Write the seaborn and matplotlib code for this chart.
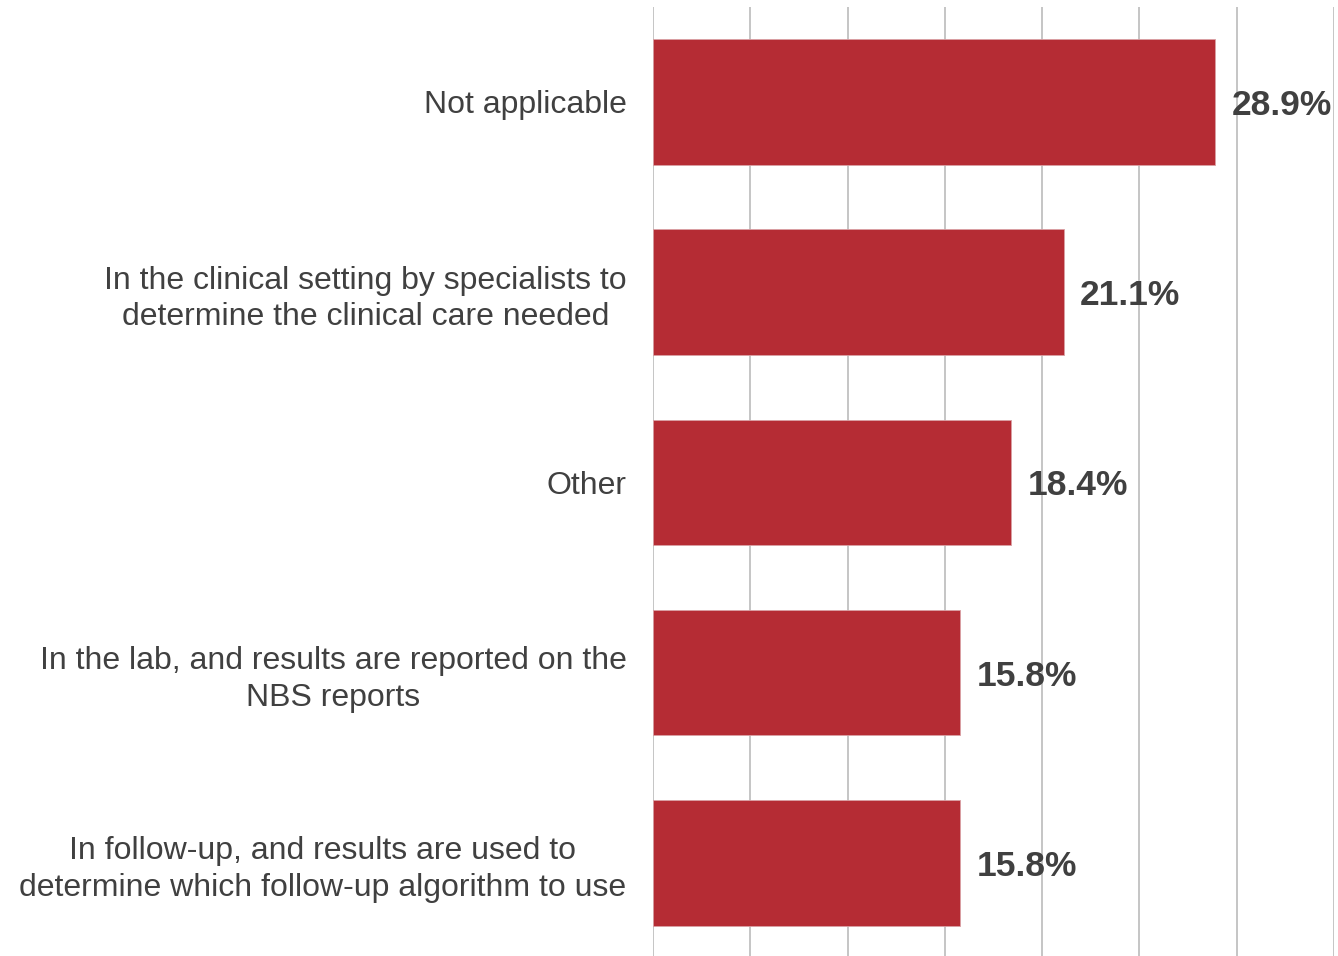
import matplotlib
matplotlib.use("Agg")
import matplotlib.pyplot as plt
import seaborn as sns
import pandas as pd

categories = [
    "Not applicable",
    "In the clinical setting by specialists to\ndetermine the clinical care needed",
    "Other",
    "In the lab, and results are reported on the\nNBS reports",
    "In follow-up, and results are used to\ndetermine which follow-up algorithm to use",
]
values = [28.9, 21.1, 18.4, 15.8, 15.8]

df = pd.DataFrame({"category": categories, "value": values})

sns.set_theme(style="white")
plt.rcParams["font.family"] = ["Liberation Sans", "DejaVu Sans"]

fig = plt.figure(figsize=(13.38, 9.56), dpi=100)
ax = fig.add_axes([0.488, -0.002, 0.509, 0.995])

sns.barplot(data=df, x="value", y="category", orient="h", color="#B52C34",
            saturation=1, width=0.66, edgecolor="#d9a0a4", linewidth=0.6, ax=ax)

ax.set_xlim(0, 35)
ax.set_ylim(4.5, -0.5)
ax.set_xticks(range(0, 36, 5))
ax.xaxis.grid(True, color="#c0c0c0", linewidth=1.3)
ax.set_axisbelow(True)
for s in ax.spines.values():
    s.set_visible(False)
ax.set_xlabel("")
ax.set_ylabel("")
ax.tick_params(axis="x", labelbottom=False, length=0)
ax.tick_params(axis="y", length=0, pad=19, labelsize=23, labelcolor="#404040")
for lbl in ax.get_yticklabels():
    lbl.set_multialignment("center")
    lbl.set_linespacing(1.3)

for i, v in enumerate(values):
    ax.annotate(f"{v:.1f}%", xy=(v, i), xytext=(12, 0), textcoords="offset points",
                ha="left", va="center_baseline", fontsize=25.5, fontweight="bold",
                color="#404040")

fig.savefig("out.png", dpi=100)
